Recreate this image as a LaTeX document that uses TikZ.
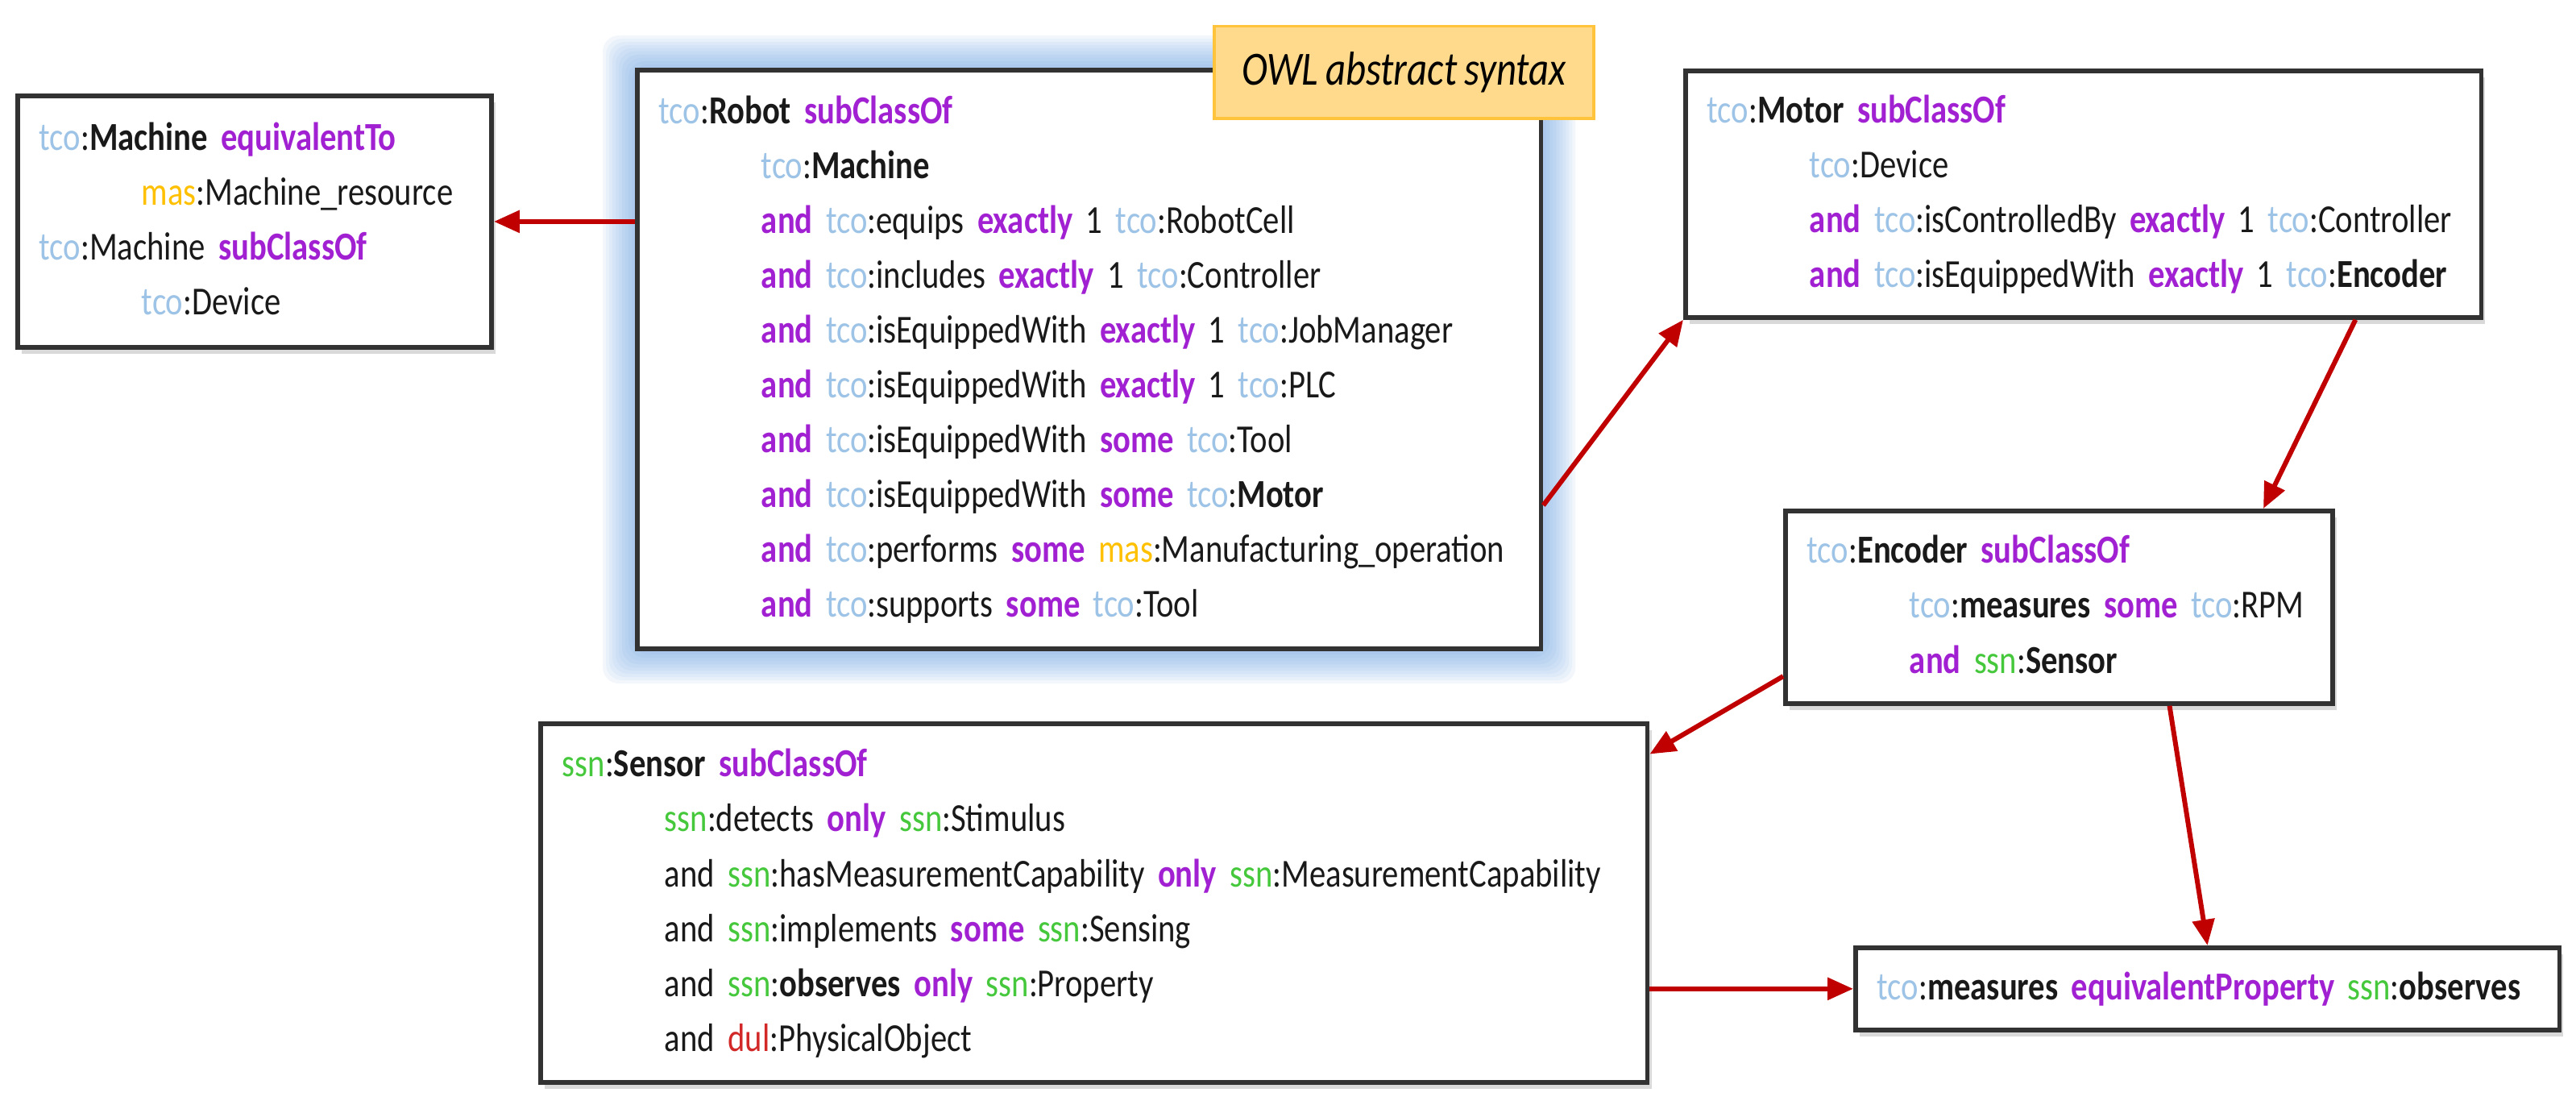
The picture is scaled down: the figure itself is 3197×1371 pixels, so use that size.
\documentclass[tikz,border=0pt]{standalone}
\usepackage{fontspec}
\setmainfont{Carlito}[FakeStretch=0.826, WordSpace=0.8]
\usetikzlibrary{positioning, arrows.meta, calc, shadows, backgrounds}

\definecolor{tcoblue}{RGB}{157,195,230}
\definecolor{owlpurple}{RGB}{160,32,210}
\definecolor{masgold}{RGB}{255,192,0}
\definecolor{ssngreen}{RGB}{70,200,60}
\definecolor{dulred}{RGB}{210,40,40}
\definecolor{linkred}{RGB}{192,0,0}
\definecolor{boxgray}{RGB}{50,50,50}
\definecolor{glowblue}{RGB}{115,165,225}
\definecolor{notefill}{RGB}{255,218,140}
\definecolor{noteline}{RGB}{255,196,60}

\newcommand{\tco}{\textcolor{tcoblue}{tco}:}
\newcommand{\ssn}{\textcolor{ssngreen}{ssn}:}
\newcommand{\mas}{\textcolor{masgold}{mas}:}
\newcommand{\dul}{\textcolor{dulred}{dul}:}
\newcommand{\kw}[1]{\textcolor{owlpurple}{\textbf{#1}}}
\newcommand{\owlind}{\hspace*{1.27cm}}

\tikzset{
        owl-box/.style={
            draw=boxgray, line width=1.6pt, fill=white, anchor=north west, align=left,
            inner xsep=0.27cm, inner ysep=0pt, text=black!90,
            font=\fontsize{14}{19.35}\selectfont
        },
        owl-shadow/.style={
            drop shadow={shadow xshift=0.05cm, shadow yshift=-0.08cm, opacity=0.3}
        },
        owl-note/.style={
            draw=noteline, line width=1pt, fill=notefill, anchor=north west, inner sep=0pt,
            minimum width=4.71cm, minimum height=1.14cm, font=\fontsize{16.8}{18}\selectfont\itshape
        },
        owl-arrow/.style={
            draw=linkred, line width=1.7pt, -{Triangle[length=0.32cm, width=0.27cm]}
        },
}

\begin{document}
\begin{tikzpicture}[x=0.01cm, y=-0.01cm]

        \useasboundingbox (0,0) rectangle (3197,1371);

        %DRAW NODES (boxes placed at their top left corners)
        \node [owl-box, owl-shadow, text width=5.34cm, minimum height=3.12cm] (machine) at (19,116) {%
            \begin{tabular}{@{}l@{}}
            \tco\textbf{Machine} \kw{equivalentTo}\\
            \owlind\mas Machine\_resource\\
            \tco Machine \kw{subClassOf}\\
            \owlind\tco Device
            \end{tabular}};
        \node [owl-box, text width=10.67cm, minimum height=7.18cm] (robot) at (788,84) {%
            \begin{tabular}{@{}l@{}}
            \tco\textbf{Robot} \kw{subClassOf}\\
            \owlind\tco\textbf{Machine}\\
            \owlind\kw{and} \tco equips \kw{exactly} 1 \tco RobotCell\\
            \owlind\kw{and} \tco includes \kw{exactly} 1 \tco Controller\\
            \owlind\kw{and} \tco isEquippedWith \kw{exactly} 1 \tco JobManager\\
            \owlind\kw{and} \tco isEquippedWith \kw{exactly} 1 \tco PLC\\
            \owlind\kw{and} \tco isEquippedWith \kw{some} \tco Tool\\
            \owlind\kw{and} \tco isEquippedWith \kw{some} \tco\textbf{Motor}\\
            \owlind\kw{and} \tco performs \kw{some} \mas Manufacturing\_operation\\
            \owlind\kw{and} \tco supports \kw{some} \tco Tool
            \end{tabular}};
        \node [owl-note] (note) at (1505,31) {OWL abstract syntax};
        \node [owl-box, owl-shadow, text width=9.33cm, minimum height=3.06cm] (motor) at (2089,85) {%
            \begin{tabular}{@{}l@{}}
            \tco\textbf{Motor} \kw{subClassOf}\\
            \owlind\tco Device\\
            \owlind\kw{and} \tco isControlledBy \kw{exactly} 1 \tco Controller\\
            \owlind\kw{and} \tco isEquippedWith \kw{exactly} 1 \tco\textbf{Encoder}
            \end{tabular}};
        \node [owl-box, owl-shadow, text width=6.25cm, minimum height=2.39cm] (encoder) at (2213,631) {%
            \begin{tabular}{@{}l@{}}
            \tco\textbf{Encoder} \kw{subClassOf}\\
            \owlind\tco\textbf{measures} \kw{some} \tco RPM\\
            \owlind\kw{and} \ssn\textbf{Sensor}
            \end{tabular}};
        \node [owl-box, owl-shadow, text width=13.19cm, minimum height=4.45cm] (sensor) at (668,895) {%
            \begin{tabular}{@{}l@{}}
            \ssn\textbf{Sensor} \kw{subClassOf}\\
            \owlind\ssn detects \kw{only} \ssn Stimulus\\
            \owlind and \ssn hasMeasurementCapability \kw{only} \ssn MeasurementCapability\\
            \owlind and \ssn implements \kw{some} \ssn Sensing\\
            \owlind and \ssn\textbf{observes} \kw{only} \ssn Property\\
            \owlind and \dul PhysicalObject
            \end{tabular}};
        \node [owl-box, owl-shadow, text width=8.19cm, minimum height=1.02cm] (measures) at (2300,1173) {%
            \begin{tabular}{@{}l@{}}
            \tco\textbf{measures} \kw{equivalentProperty} \ssn\textbf{observes}
            \end{tabular}};

        % GLOW ROUND THE ROBOT BOX
        \begin{scope}[on background layer]
            \foreach \g in {1,...,10}
                \fill [glowblue, fill opacity=0.085, rounded corners=0.2cm]
                    ($(robot.north west)+(-\g*4,-\g*4)$) rectangle ($(robot.south east)+(\g*4,\g*4)$);
        \end{scope}

        % CONNECT BOXES
        \draw [owl-arrow] (machine.east -| robot.west) -- (machine.east);
        \draw [owl-arrow] ($(robot.south east)!0.25!(robot.north east)$) -- (motor.south west);
        \draw [owl-arrow] ($(motor.south west)!0.84!(motor.south east)$) -- ($(encoder.north west)!0.87!(encoder.north east)$);
        \draw [owl-arrow] ($(encoder.south west)!0.15!(encoder.north west)$) -- ($(sensor.north east)!0.09!(sensor.south east)$);
        \draw [owl-arrow] ($(encoder.south west)!0.70!(encoder.south east)$) -- (measures.north);
        \draw [owl-arrow] (measures.west -| sensor.east) -- (measures.west);

    \end{tikzpicture}
\end{document}
